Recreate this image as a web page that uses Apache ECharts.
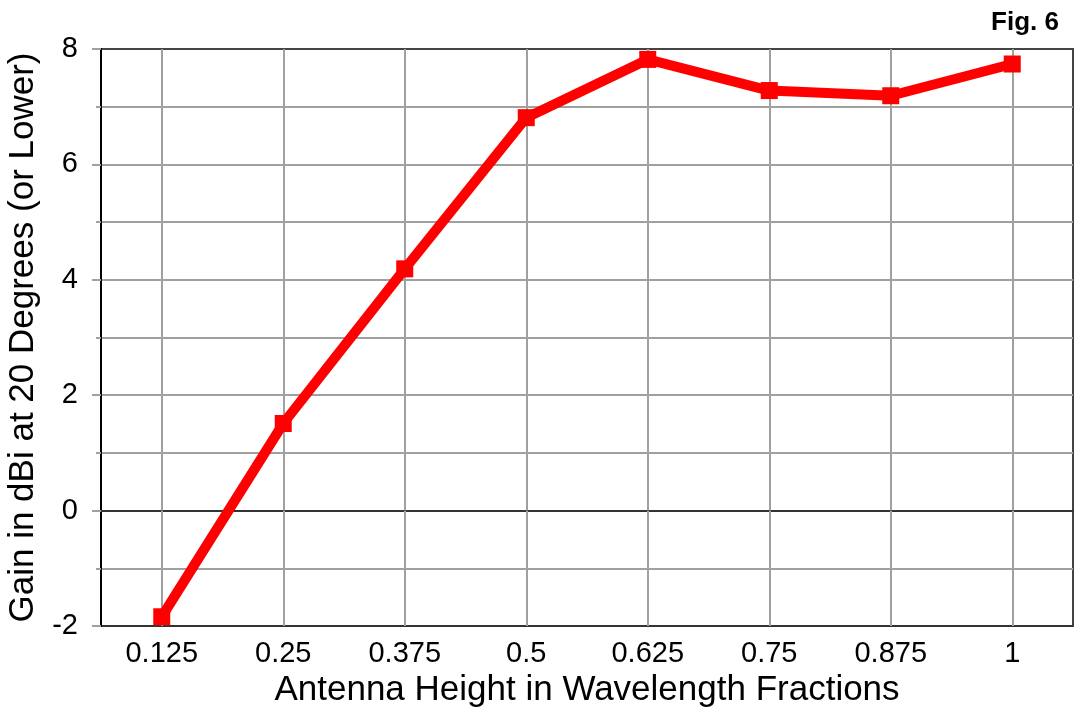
<!DOCTYPE html>
<html>
<head>
<meta charset="utf-8">
<script src="https://cdn.jsdelivr.net/npm/echarts@6/dist/echarts.min.js"></script>
<style>html,body{margin:0;padding:0;background:#fff}#c{width:1077px;height:709px}</style>
</head>
<body>
<div id="c"></div>
<script>
const categories = ['0.125', '0.25', '0.375', '0.5', '0.625', '0.75', '0.875', '1'];
const gainValues = [-1.84, 1.51, 4.19, 6.81, 7.82, 7.28, 7.19, 7.74];
const yMin = -2, yMax = 8, yStep = 2;
const xTitle = 'Antenna Height in Wavelength Fractions';
const yTitle = 'Gain in dBi at 20 Degrees (or Lower)';
const figLabel = 'Fig. 6';

const FONT = 'Liberation Sans, Arial, sans-serif';
const GRIDC = '#a0a0a0';
const chart = echarts.init(document.getElementById('c'), null, {renderer: 'canvas'});
chart.setOption({
  animation: false,
  backgroundColor: '#ffffff',
  title: {
    text: figLabel, right: 13, top: 5,
    textStyle: {fontFamily: FONT, fontSize: 26, fontWeight: 'bold', color: '#000'}
  },
  grid: {left: 101, right: 4, top: 49, bottom: 83, show: true, borderColor: '#444', borderWidth: 2,
         containLabel: false, outerBoundsMode: 'none'},
  xAxis: {
    type: 'category',
    data: categories,
    boundaryGap: true,
    name: xTitle,
    nameLocation: 'middle',
    nameGap: 44,
    nameTextStyle: {fontFamily: FONT, fontSize: 35, color: '#000'},
    axisLine: {show: true, lineStyle: {color: '#333', width: 2}},
    axisTick: {show: true, alignWithLabel: true, length: 8, lineStyle: {color: GRIDC, width: 2}},
    axisLabel: {fontFamily: FONT, fontSize: 29, color: '#000', margin: 13},
    splitLine: {show: true, alignWithLabel: true, lineStyle: {color: GRIDC, width: 2}}
  },
  yAxis: {
    type: 'value',
    min: yMin, max: yMax, interval: yStep,
    name: yTitle,
    nameLocation: 'middle',
    nameGap: 50,
    nameRotate: 90,
    nameTextStyle: {fontFamily: FONT, fontSize: 35, color: '#000'},
    axisLine: {show: true, lineStyle: {color: '#000', width: 2}},
    axisTick: {show: true, length: 9, lineStyle: {color: GRIDC, width: 2}},
    minorTick: {show: true, splitNumber: 2, length: 5, lineStyle: {color: GRIDC, width: 2}},
    axisLabel: {fontFamily: FONT, fontSize: 29, color: '#000', margin: 23},
    splitLine: {show: true, lineStyle: {color: ['#333', '#333', GRIDC, GRIDC, GRIDC, '#444'], width: 2}},
    minorSplitLine: {show: true, lineStyle: {color: GRIDC, width: 2}}
  },
  series: [{
    type: 'line',
    data: gainValues,
    symbol: 'rect',
    symbolSize: 17,
    lineStyle: {color: '#ff0000', width: 10},
    itemStyle: {color: '#ff0000'},
    z: 5
  }]
});
</script>
</body>
</html>
